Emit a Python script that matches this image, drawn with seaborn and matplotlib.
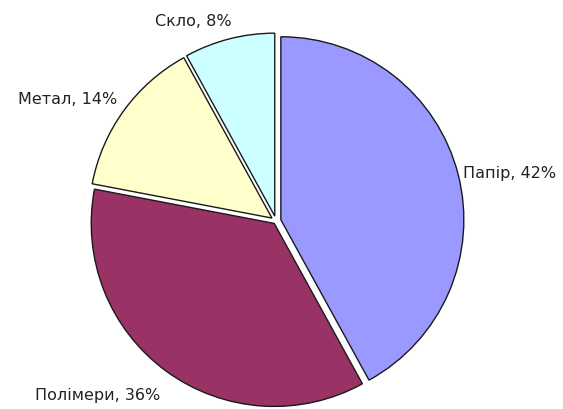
import matplotlib
matplotlib.use("Agg")
import matplotlib.pyplot as plt
import seaborn as sns

# Waste composition shares
categories = ["Папір", "Полімери", "Метал", "Скло"]
shares = [42, 36, 14, 8]
colors_hex = ["#9999FF", "#993366", "#FFFFCC", "#CCFFFF"]

sns.set_theme(style="white")
plt.rcParams["font.family"] = ["DejaVu Sans"]

W, H = 563, 410
fig = plt.figure(figsize=(W / 100, H / 100), dpi=100)
ax = fig.add_axes([0, 0, 1, 1])

palette = sns.color_palette(colors_hex)
cx, cy, r = 276, H - 222, 183
# explode offsets are in axis units (pixels here)
wedges, _ = ax.pie(
    shares,
    colors=palette,
    startangle=90,
    counterclock=False,
    explode=[5.0, 3.0, 5.0, 5.0],
    center=(cx, cy),
    radius=r,
    wedgeprops=dict(edgecolor="#1a1a1a", linewidth=1.0),
)

ax.set_xlim(0, W)
ax.set_ylim(0, H)
ax.set_aspect("equal")
ax.axis("off")

# label anchors (x, y from top, horizontal alignment)
label_pos = [(463, 173, "left"), (160, 395, "right"), (117, 100, "right"), (232, 22, "right")]
for name, val, (lx, ly, ha) in zip(categories, shares, label_pos):
    ax.text(lx, H - ly, f"{name}, {val}%", ha=ha, va="center",
            fontsize=11.5, color="#222222")

fig.savefig("out.png", dpi=100)
